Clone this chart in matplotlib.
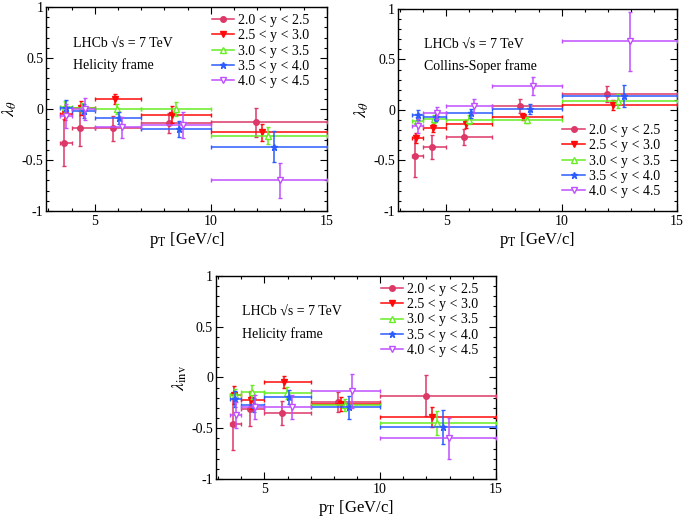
import numpy as np
import matplotlib
matplotlib.use("Agg")
import matplotlib.pyplot as plt
from matplotlib.lines import Line2D
from matplotlib.ticker import MultipleLocator, FuncFormatter

plt.rcParams['font.family'] = ['Liberation Serif', 'DejaVu Serif']
plt.rcParams['mathtext.fontset'] = 'stix'
plt.rcParams['axes.unicode_minus'] = False

# pT bins [GeV/c]
BIN_LO = np.array([3.5, 4.0, 5.0, 7.0, 10.0])
BIN_HI = np.array([4.0, 5.0, 7.0, 10.0, 15.0])

RAP_LABELS = ["2.0 < y < 2.5", "2.5 < y < 3.0", "3.0 < y < 3.5",
              "3.5 < y < 4.0", "4.0 < y < 4.5"]
COLORS = ["#dc3868", "#ff0a0a", "#66ee22", "#2c5cff", "#c050ff"]
MARKERS = ["o", "v", "^", "*", "v"]
OPEN = [False, False, True, False, True]

# mean pT in each bin, per rapidity range
PT_MEAN = [
    [3.66, 4.37, 5.78, 8.18, 11.96],
    [3.70, 4.42, 5.86, 8.32, 12.22],
    [3.73, 4.47, 5.97, 8.48, 12.47],
    [3.75, 4.53, 6.06, 8.64, 12.72],
    [3.78, 4.59, 6.18, 8.78, 12.98],
]

# lambda_theta, helicity frame
HX_VAL = [
    [-0.33, -0.19, -0.19, -0.14, -0.13],
    [-0.05, 0.01, 0.095, -0.055, -0.23],
    [0.02, 0.01, 0.0, 0.0, -0.26],
    [0.01, -0.02, -0.085, -0.195, -0.37],
    [-0.07, 0.0, -0.18, -0.155, -0.70],
]
HX_ERR = [
    [0.23, 0.17, 0.12, 0.10, 0.14],
    [0.06, 0.07, 0.05, 0.08, 0.08],
    [0.06, 0.05, 0.05, 0.07, 0.08],
    [0.08, 0.07, 0.06, 0.08, 0.15],
    [0.12, 0.11, 0.10, 0.13, 0.17],
]

# lambda_theta, Collins-Soper frame
CS_VAL = [
    [-0.455, -0.37, -0.265, 0.035, 0.16],
    [-0.275, -0.18, -0.14, -0.065, 0.045],
    [-0.11, -0.09, -0.095, -0.10, 0.09],
    [-0.05, -0.065, -0.035, 0.01, 0.14],
    [-0.16, -0.03, 0.04, 0.235, 0.68],
]
CS_ERR = [
    [0.21, 0.12, 0.08, 0.07, 0.08],
    [0.05, 0.04, 0.04, 0.03, 0.05],
    [0.04, 0.04, 0.04, 0.03, 0.07],
    [0.05, 0.04, 0.04, 0.05, 0.11],
    [0.07, 0.06, 0.07, 0.09, 0.29],
]

# lambda_inv, helicity frame
INV_VAL = [
    [-0.46, -0.31, -0.35, -0.245, -0.18],
    [-0.17, -0.225, -0.045, -0.265, -0.39],
    [-0.17, -0.145, -0.155, -0.27, -0.45],
    [-0.215, -0.27, -0.195, -0.295, -0.49],
    [-0.37, -0.29, -0.29, -0.135, -0.60],
]
INV_ERR = [
    [0.25, 0.17, 0.12, 0.10, 0.20],
    [0.09, 0.09, 0.06, 0.07, 0.10],
    [0.06, 0.07, 0.06, 0.06, 0.12],
    [0.08, 0.07, 0.07, 0.11, 0.17],
    [0.13, 0.12, 0.12, 0.17, 0.20],
]

FS = 10


def draw_panel(ax, vals, errs, ylabel, frame_text, leg_anchor):
    for i in range(5):
        x = np.array(PT_MEAN[i])
        xerr = [x - BIN_LO, BIN_HI - x]
        mfc = "white" if OPEN[i] else COLORS[i]
        ms = 5 if MARKERS[i] == "*" else 4
        ax.errorbar(x, vals[i], xerr=xerr, yerr=errs[i], fmt=MARKERS[i],
                    color=COLORS[i], mfc=mfc, mec=COLORS[i], ms=ms,
                    elinewidth=1.1, capsize=1.5, capthick=1.0, zorder=3 + i)

    ax.set_xlim(2.9, 15)
    ax.set_ylim(-1, 1)
    ax.xaxis.set_major_locator(MultipleLocator(5))
    ax.xaxis.set_minor_locator(MultipleLocator(1))
    ax.yaxis.set_major_locator(MultipleLocator(0.5))
    ax.yaxis.set_minor_locator(MultipleLocator(0.1))
    ax.yaxis.set_major_formatter(FuncFormatter(lambda v, p: "%g" % v))
    ax.tick_params(which="both", direction="in", top=True, right=True,
                   labelsize=FS, width=0.8)
    ax.tick_params(which="major", length=5, pad=3)
    ax.tick_params(which="minor", length=2.5)
    ax.tick_params(axis="y", pad=2)
    for sp in ax.spines.values():
        sp.set_linewidth(1.0)

    ax.set_xlabel(r"p$_{\rm T}$ [GeV/c]", fontsize=FS + 2, labelpad=1)
    ax.set_ylabel(ylabel, fontsize=FS + 3)
    ax.yaxis.set_label_coords(-0.095, 0.5)

    ax.text(0.095, 0.82, "LHCb \u221as = 7 TeV", transform=ax.transAxes,
            fontsize=FS, va="center")
    ax.text(0.095, 0.715, frame_text, transform=ax.transAxes,
            fontsize=FS, va="center")

    handles = []
    for i in range(5):
        mfc = "white" if OPEN[i] else COLORS[i]
        ms = 5 if MARKERS[i] == "*" else 4
        handles.append(Line2D([0], [0], color=COLORS[i], marker=MARKERS[i],
                              mfc=mfc, mec=COLORS[i], ms=ms, lw=1.1))
    ax.legend(handles, RAP_LABELS, loc="upper left", bbox_to_anchor=leg_anchor,
              frameon=False, fontsize=FS, handlelength=1.6,
              handletextpad=0.3, labelspacing=0.16, borderaxespad=0,
              borderpad=0)


fig = plt.figure(figsize=(6.85, 5.21), dpi=100)
ax1 = fig.add_axes([0.0672, 0.595, 0.410, 0.3916])
ax2 = fig.add_axes([0.581, 0.595, 0.407, 0.388])
ax3 = fig.add_axes([0.315, 0.0806, 0.409, 0.39])

draw_panel(ax1, HX_VAL, HX_ERR, r"$\lambda_{\theta}$", "Helicity frame",
           (0.59, 0.965))
draw_panel(ax2, CS_VAL, CS_ERR, r"$\lambda_{\theta}$", "Collins-Soper frame",
           (0.59, 0.43))
draw_panel(ax3, INV_VAL, INV_ERR, r"$\lambda_{\rm inv}$", "Helicity frame",
           (0.59, 0.965))

fig.savefig("out.png", dpi=100)
